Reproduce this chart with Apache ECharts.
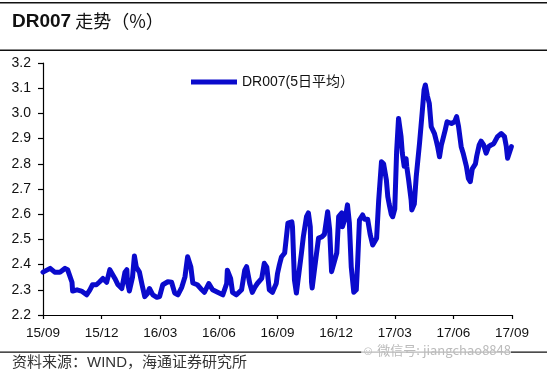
<!DOCTYPE html>
<html>
<head>
<meta charset="utf-8">
<script src="https://cdn.jsdelivr.net/npm/echarts@6/dist/echarts.min.js"></script>
<style>
html,body{margin:0;padding:0;background:#fff;}
#chart{width:547px;height:379px;}
</style>
</head>
<body>
<div id="chart"></div>
<script>
const titleMain = 'DR007';
const titleRest = ' 走势（%）';
const seriesName = 'DR007(5日平均）';
const sourceText = '资料来源：WIND，海通证券研究所';
const watermarkText = '微信号: jiangchao8848';
const tickLabels = ['15/09','15/12','16/03','16/06','16/09','16/12','17/03','17/06','17/09'];
const yMin = 2.2, yMax = 3.2, yStep = 0.1;

const dates = [
'2015-09-01','2015-09-12','2015-09-19','2015-09-27','2015-10-05','2015-10-09','2015-10-16','2015-10-17','2015-10-24','2015-10-31',
'2015-11-08','2015-11-13','2015-11-17','2015-11-23','2015-11-28','2015-12-03','2015-12-09','2015-12-14','2015-12-17','2015-12-22',
'2015-12-27','2016-01-02','2016-01-07','2016-01-10','2016-01-11','2016-01-14','2016-01-19','2016-01-22','2016-01-25','2016-01-30',
'2016-02-03','2016-02-07','2016-02-11','2016-02-14','2016-02-19','2016-02-25','2016-02-29','2016-03-05','2016-03-13','2016-03-19',
'2016-03-24','2016-03-29','2016-04-04','2016-04-09','2016-04-13','2016-04-18','2016-04-21','2016-04-28','2016-05-05','2016-05-09',
'2016-05-16','2016-05-22','2016-05-30','2016-06-07','2016-06-13','2016-06-14','2016-06-19','2016-06-22','2016-06-28','2016-07-06',
'2016-07-11','2016-07-14','2016-07-19','2016-07-23','2016-07-27','2016-07-31','2016-08-07','2016-08-11','2016-08-15','2016-08-19',
'2016-08-24','2016-08-30','2016-09-01','2016-09-04','2016-09-07','2016-09-12','2016-09-15','2016-09-17','2016-09-23','2016-09-24',
'2016-09-27','2016-09-30','2016-10-02','2016-10-08','2016-10-11','2016-10-16','2016-10-19','2016-10-22','2016-10-24','2016-10-25',
'2016-11-01','2016-11-04','2016-11-09','2016-11-13','2016-11-18','2016-11-21','2016-11-24','2016-11-25','2016-12-02','2016-12-05',
'2016-12-10','2016-12-11','2016-12-16','2016-12-19','2016-12-22','2016-12-25','2016-12-29','2017-01-02','2017-01-04','2017-01-07',
'2017-01-12','2017-01-15','2017-01-20','2017-01-24','2017-01-28','2017-02-03','2017-02-06','2017-02-10','2017-02-13','2017-02-17',
'2017-02-19','2017-02-21','2017-02-24','2017-02-26','2017-03-01','2017-03-04','2017-03-07','2017-03-11','2017-03-13','2017-03-16',
'2017-03-19','2017-03-20','2017-03-23','2017-03-27','2017-03-28','2017-04-01','2017-04-04','2017-04-09','2017-04-13','2017-04-16',
'2017-04-18','2017-04-21','2017-04-24','2017-04-27','2017-05-02','2017-05-05','2017-05-07','2017-05-10','2017-05-13','2017-05-15',
'2017-05-19','2017-05-22','2017-05-29','2017-06-03','2017-06-06','2017-06-09','2017-06-13','2017-06-16','2017-06-19','2017-06-21',
'2017-06-24','2017-06-27','2017-06-30','2017-07-05','2017-07-07','2017-07-11','2017-07-14','2017-07-18','2017-07-22','2017-07-26',
'2017-07-30','2017-08-03','2017-08-06','2017-08-09','2017-08-15','2017-08-20','2017-08-23','2017-08-25','2017-08-28','2017-08-31'
];
const values = [
2.37,2.385,2.37,2.37,2.385,2.38,2.33,2.295,2.30,2.295,
2.28,2.30,2.32,2.32,2.332,2.345,2.33,2.38,2.385,2.345,
2.32,2.305,2.37,2.38,2.33,2.295,2.35,2.434,2.39,2.37,
2.32,2.273,2.285,2.305,2.28,2.27,2.273,2.32,2.332,2.33,
2.287,2.28,2.31,2.352,2.431,2.39,2.327,2.32,2.30,2.29,
2.325,2.30,2.29,2.28,2.325,2.378,2.345,2.29,2.28,2.30,
2.378,2.392,2.325,2.29,2.31,2.325,2.345,2.405,2.39,2.30,
2.29,2.325,2.365,2.40,2.43,2.446,2.45,2.565,2.57,2.55,
2.339,2.287,2.29,2.446,2.511,2.59,2.605,2.55,2.33,2.307,
2.446,2.505,2.51,2.52,2.61,2.54,2.372,2.365,2.446,2.59,
2.605,2.55,2.59,2.637,2.565,2.39,2.29,2.30,2.40,2.577,
2.597,2.58,2.58,2.52,2.478,2.505,2.656,2.808,2.80,2.736,
2.67,2.64,2.60,2.59,2.62,2.85,2.98,2.908,2.842,2.79,
2.82,2.79,2.736,2.656,2.617,2.64,2.75,2.881,3.0,3.093,
3.113,3.07,3.04,2.947,2.92,2.89,2.868,2.828,2.875,2.894,
2.934,2.967,2.96,2.967,2.987,2.947,2.868,2.842,2.842,2.79,
2.742,2.729,2.78,2.80,2.83,2.875,2.89,2.875,2.842,2.868,
2.875,2.88,2.894,2.908,2.92,2.908,2.868,2.822,2.828,2.868
];

// month offset from 2015-09-01
function monthOffset(s){
  const [y,m,d] = s.split('-').map(Number);
  const dim = new Date(y, m, 0).getDate();
  return (y-2015)*12 + (m-9) + (d-1)/dim;
}
const data = dates.map((d,i)=>[monthOffset(d), values[i]]);

const chart = echarts.init(document.getElementById('chart'), null, {renderer:'canvas'});
const latin = '"Liberation Sans", Arial, "Noto Sans CJK SC", sans-serif';
const cjk = '"Liberation Sans", "Noto Sans CJK SC", sans-serif';
chart.setOption({
  animation:false,
  backgroundColor:'#fff',
  grid:{left:43, right:35, top:63, bottom:64, containLabel:false},
  legend:{
    show:true, left:186, top:70,
    data:[{name:seriesName, icon:'rect'}],
    itemWidth:46, itemHeight:5, itemGap:4,
    textStyle:{fontFamily:cjk, fontSize:14, color:'#111'}
  },
  xAxis:{
    type:'value', min:0, max:24, interval:3,
    axisLine:{show:true, onZero:false, lineStyle:{color:'#000', width:1.2}},
    axisTick:{show:true, length:4, inside:false, lineStyle:{color:'#000', width:1.2}},
    axisLabel:{
      margin:12, fontFamily:latin, fontSize:13.5, color:'#111',
      formatter:(v)=>{const i=Math.round(v/3); return tickLabels[i]||'';}
    },
    splitLine:{show:false}
  },
  yAxis:{
    type:'value', min:yMin, max:yMax, interval:yStep,
    axisLine:{show:true, lineStyle:{color:'#000', width:1.2}},
    axisTick:{show:true, length:5, lineStyle:{color:'#000', width:1.2}},
    axisLabel:{margin:12, fontFamily:latin, fontSize:14, color:'#111', formatter:(v)=>v.toFixed(1)},
    splitLine:{show:false}
  },
  series:[{
    name:seriesName, type:'line', data:data, showSymbol:false, symbol:'none',
    smooth:false,
    lineStyle:{color:'#0a0acc', width:5, join:'round', cap:'round'},
    itemStyle:{color:'#0a0acc'}
  }],
  graphic:[
    {type:'rect', shape:{x:0,y:2,width:547,height:1.5}, style:{fill:'#111'}},
    {type:'text', left:12, top:12, style:{
      text:'{a|'+titleMain+'}{b|'+titleRest+'}',
      rich:{
        a:{font:'bold 19px "Liberation Sans", Arial, sans-serif', fill:'#111', fontWeight:'bold', fontSize:19, fontFamily:'"Liberation Sans", Arial, sans-serif'},
        b:{fontSize:18, fontFamily:'"Noto Sans CJK SC", sans-serif', fontWeight:'normal', fill:'#111'}
      }
    }},
    {type:'rect', shape:{x:0,y:49.5,width:547,height:1.5}, style:{fill:'#111'}},
    {type:'rect', shape:{x:0,y:351.5,width:547,height:1.2}, style:{fill:'#111'}},
    {type:'text', left:12, top:355, style:{text:sourceText, font:'15px "Liberation Sans", "Noto Sans CJK SC", sans-serif', fill:'#333'}},
    {type:'text', right:36, top:344, style:{text:'☺ '+watermarkText, font:'13px "Noto Sans CJK SC", sans-serif', fill:'#bbb', backgroundColor:'rgba(255,255,255,0.7)'}}
  ]
});
</script>
</body>
</html>
